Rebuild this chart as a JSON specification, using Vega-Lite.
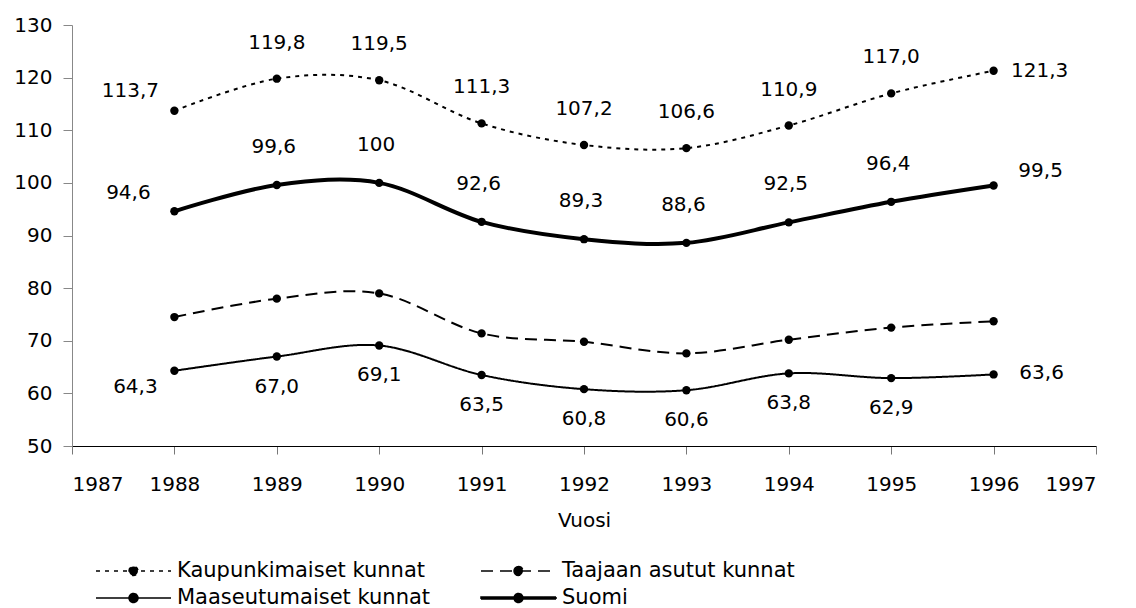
{
  "$schema": "https://vega.github.io/schema/vega-lite/v6.json",
  "width": 1024,
  "height": 421,
  "autosize": {"type": "none"},
  "padding": {"left": 72, "top": 25, "right": 40, "bottom": 162},
  "background": "white",
  "config": {
    "font": "DejaVu Sans",
    "view": {"stroke": null},
    "axis": {"grid": false}
  },
  "data": {
    "values": [
      {"series": "Kaupunkimaiset kunnat", "year": 1988, "value": 113.7, "label": "113,7"},
      {"series": "Kaupunkimaiset kunnat", "year": 1989, "value": 119.8, "label": "119,8"},
      {"series": "Kaupunkimaiset kunnat", "year": 1990, "value": 119.5, "label": "119,5"},
      {"series": "Kaupunkimaiset kunnat", "year": 1991, "value": 111.3, "label": "111,3"},
      {"series": "Kaupunkimaiset kunnat", "year": 1992, "value": 107.2, "label": "107,2"},
      {"series": "Kaupunkimaiset kunnat", "year": 1993, "value": 106.6, "label": "106,6"},
      {"series": "Kaupunkimaiset kunnat", "year": 1994, "value": 110.9, "label": "110,9"},
      {"series": "Kaupunkimaiset kunnat", "year": 1995, "value": 117.0, "label": "117,0"},
      {"series": "Kaupunkimaiset kunnat", "year": 1996, "value": 121.3, "label": "121,3"},
      {"series": "Taajaan asutut kunnat", "year": 1988, "value": 74.5, "label": ""},
      {"series": "Taajaan asutut kunnat", "year": 1989, "value": 78.0, "label": ""},
      {"series": "Taajaan asutut kunnat", "year": 1990, "value": 79.0, "label": ""},
      {"series": "Taajaan asutut kunnat", "year": 1991, "value": 71.4, "label": ""},
      {"series": "Taajaan asutut kunnat", "year": 1992, "value": 69.8, "label": ""},
      {"series": "Taajaan asutut kunnat", "year": 1993, "value": 67.6, "label": ""},
      {"series": "Taajaan asutut kunnat", "year": 1994, "value": 70.2, "label": ""},
      {"series": "Taajaan asutut kunnat", "year": 1995, "value": 72.5, "label": ""},
      {"series": "Taajaan asutut kunnat", "year": 1996, "value": 73.7, "label": ""},
      {"series": "Maaseutumaiset kunnat", "year": 1988, "value": 64.3, "label": "64,3"},
      {"series": "Maaseutumaiset kunnat", "year": 1989, "value": 67.0, "label": "67,0"},
      {"series": "Maaseutumaiset kunnat", "year": 1990, "value": 69.1, "label": "69,1"},
      {"series": "Maaseutumaiset kunnat", "year": 1991, "value": 63.5, "label": "63,5"},
      {"series": "Maaseutumaiset kunnat", "year": 1992, "value": 60.8, "label": "60,8"},
      {"series": "Maaseutumaiset kunnat", "year": 1993, "value": 60.6, "label": "60,6"},
      {"series": "Maaseutumaiset kunnat", "year": 1994, "value": 63.8, "label": "63,8"},
      {"series": "Maaseutumaiset kunnat", "year": 1995, "value": 62.9, "label": "62,9"},
      {"series": "Maaseutumaiset kunnat", "year": 1996, "value": 63.6, "label": "63,6"},
      {"series": "Suomi", "year": 1988, "value": 94.6, "label": "94,6"},
      {"series": "Suomi", "year": 1989, "value": 99.6, "label": "99,6"},
      {"series": "Suomi", "year": 1990, "value": 100.0, "label": "100"},
      {"series": "Suomi", "year": 1991, "value": 92.6, "label": "92,6"},
      {"series": "Suomi", "year": 1992, "value": 89.3, "label": "89,3"},
      {"series": "Suomi", "year": 1993, "value": 88.6, "label": "88,6"},
      {"series": "Suomi", "year": 1994, "value": 92.5, "label": "92,5"},
      {"series": "Suomi", "year": 1995, "value": 96.4, "label": "96,4"},
      {"series": "Suomi", "year": 1996, "value": 99.5, "label": "99,5"}
    ]
  },
  "encoding": {
    "x": {
      "field": "year",
      "type": "quantitative",
      "scale": {"domain": [1987, 1997], "nice": false, "zero": false},
      "axis": {
        "title": "Vuosi",
        "values": [1987, 1988, 1989, 1990, 1991, 1992, 1993, 1994, 1995, 1996, 1997],
        "format": "d",
        "labelFontSize": 20,
        "labelColor": "black",
        "labelPadding": 20,
        "tickSize": 8,
        "tickColor": "#777777",
        "domainColor": "black",
        "titleFontSize": 20,
        "titleFontWeight": "normal",
        "titleColor": "black",
        "titlePadding": 16
      }
    },
    "y": {
      "field": "value",
      "type": "quantitative",
      "scale": {"domain": [50, 130], "nice": false, "zero": false},
      "axis": {
        "title": null,
        "values": [50, 60, 70, 80, 90, 100, 110, 120, 130],
        "labelFontSize": 20,
        "labelColor": "black",
        "labelPadding": 11,
        "tickSize": 9,
        "tickColor": "#888888",
        "domainColor": "#888888"
      }
    }
  },
  "layer": [
    {
      "transform": [{"filter": "datum.series !== 'Suomi'"}],
      "mark": {"type": "line", "interpolate": "cardinal", "color": "black", "strokeWidth": 2},
      "encoding": {
        "strokeDash": {
          "field": "series",
          "type": "nominal",
          "scale": {
            "domain": ["Kaupunkimaiset kunnat", "Taajaan asutut kunnat", "Maaseutumaiset kunnat", "Suomi"],
            "range": [[4, 5], [12, 7], [1, 0], [1, 0]]
          },
          "legend": {
            "title": null,
            "orient": "none",
            "legendX": 23,
            "legendY": 535,
            "columns": 2,
            "direction": "horizontal",
            "symbolType": "M-1,0H6.5M2.3,0A0.45,0.45,0,1,1,3.2,0A0.45,0.45,0,1,1,2.3,0Z",
            "symbolSize": 400,
            "symbolStrokeColor": "black",
            "labelFont": "DejaVu Sans",
            "labelFontSize": 21,
            "labelColor": "black",
            "labelOffset": 60,
            "labelLimit": 500,
            "columnPadding": 47,
            "rowPadding": 6,
            "padding": 0,
            "encode": {"symbols": {"update": {
              "fill": {"value": "black"},
              "stroke": {"value": "black"},
              "opacity": {"value": 1},
              "shape": {"signal": "datum.value === 'Suomi' ? 'M-1,-0.1H6.5V0.1H-1ZM2.3,0A0.45,0.45,0,1,1,3.2,0A0.45,0.45,0,1,1,2.3,0Z' : 'M-1,0H6.5M2.3,0A0.45,0.45,0,1,1,3.2,0A0.45,0.45,0,1,1,2.3,0Z'"}
            }}}
          }
        }
      }
    },
    {
      "transform": [{"filter": "datum.series === 'Suomi'"}],
      "mark": {"type": "line", "interpolate": "cardinal", "color": "black", "strokeWidth": 4}
    },
    {
      "mark": {"type": "point", "filled": true, "color": "black", "size": 70, "opacity": 1}
    },
    {
      "transform": [{"filter": "datum.series === 'Kaupunkimaiset kunnat' && datum.year === 1988"}],
      "mark": {"type": "text", "fontSize": 20, "color": "black", "align": "center", "baseline": "middle", "dx": -44, "dy": -20},
      "encoding": {"text": {"field": "label"}}
    },
    {
      "transform": [{"filter": "datum.series === 'Kaupunkimaiset kunnat' && datum.year > 1988 && datum.year < 1996"}],
      "mark": {"type": "text", "fontSize": 20, "color": "black", "align": "center", "baseline": "middle", "dx": 0, "dy": -36},
      "encoding": {"text": {"field": "label"}}
    },
    {
      "transform": [{"filter": "datum.series === 'Kaupunkimaiset kunnat' && datum.year === 1996"}],
      "mark": {"type": "text", "fontSize": 20, "color": "black", "align": "center", "baseline": "middle", "dx": 46, "dy": 0},
      "encoding": {"text": {"field": "label"}}
    },
    {
      "transform": [{"filter": "datum.series === 'Suomi' && datum.year === 1988"}],
      "mark": {"type": "text", "fontSize": 20, "color": "black", "align": "center", "baseline": "middle", "dx": -46, "dy": -18},
      "encoding": {"text": {"field": "label"}}
    },
    {
      "transform": [{"filter": "datum.series === 'Suomi' && datum.year > 1988 && datum.year < 1996"}],
      "mark": {"type": "text", "fontSize": 20, "color": "black", "align": "center", "baseline": "middle", "dx": -3, "dy": -38},
      "encoding": {"text": {"field": "label"}}
    },
    {
      "transform": [{"filter": "datum.series === 'Suomi' && datum.year === 1996"}],
      "mark": {"type": "text", "fontSize": 20, "color": "black", "align": "center", "baseline": "middle", "dx": 47, "dy": -15},
      "encoding": {"text": {"field": "label"}}
    },
    {
      "transform": [{"filter": "datum.series === 'Maaseutumaiset kunnat' && datum.year === 1988"}],
      "mark": {"type": "text", "fontSize": 20, "color": "black", "align": "center", "baseline": "middle", "dx": -39, "dy": 16},
      "encoding": {"text": {"field": "label"}}
    },
    {
      "transform": [{"filter": "datum.series === 'Maaseutumaiset kunnat' && datum.year > 1988 && datum.year < 1996"}],
      "mark": {"type": "text", "fontSize": 20, "color": "black", "align": "center", "baseline": "middle", "dx": 0, "dy": 30},
      "encoding": {"text": {"field": "label"}}
    },
    {
      "transform": [{"filter": "datum.series === 'Maaseutumaiset kunnat' && datum.year === 1996"}],
      "mark": {"type": "text", "fontSize": 20, "color": "black", "align": "center", "baseline": "middle", "dx": 48, "dy": -1},
      "encoding": {"text": {"field": "label"}}
    }
  ]
}
